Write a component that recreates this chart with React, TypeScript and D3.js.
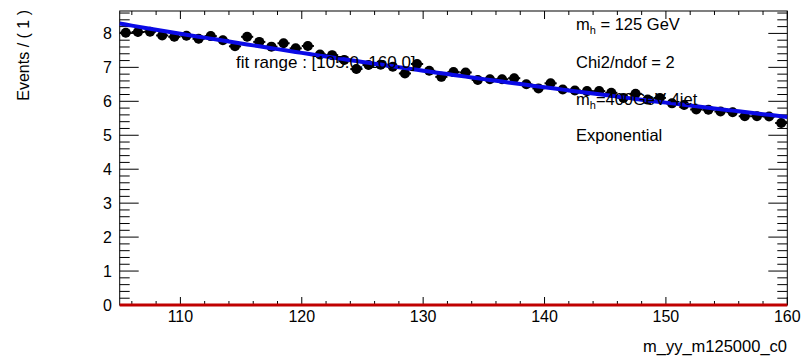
import React from 'react';
import * as d3 from 'd3';

const binCenters = [
  105.5, 106.5, 107.5, 108.5, 109.5, 110.5, 111.5, 112.5, 113.5, 114.5,
  115.5, 116.5, 117.5, 118.5, 119.5, 120.5, 121.5, 122.5, 123.5, 124.5,
  125.5, 126.5, 127.5, 128.5, 129.5, 130.5, 131.5, 132.5, 133.5, 134.5,
  135.5, 136.5, 137.5, 138.5, 139.5, 140.5, 141.5, 142.5, 143.5, 144.5,
  145.5, 146.5, 147.5, 148.5, 149.5, 150.5, 151.5, 152.5, 153.5, 154.5,
  155.5, 156.5, 157.5, 158.5, 159.5,
];
const eventValues = [
  8.02, 8.04, 8.05, 7.94, 7.90, 7.93, 7.84, 7.92, 7.80, 7.62,
  7.90, 7.75, 7.61, 7.71, 7.56, 7.63, 7.38, 7.36, 7.22, 6.95,
  7.07, 7.08, 7.02, 6.82, 7.10, 6.90, 6.72, 6.86, 6.85, 6.63,
  6.65, 6.65, 6.68, 6.50, 6.38, 6.53, 6.35, 6.32, 6.30, 6.30,
  6.25, 6.10, 6.22, 6.05, 6.10, 5.94, 5.89, 5.76, 5.75, 5.70,
  5.68, 5.56, 5.56, 5.55, 5.36,
];
const binWidth = 1;
const pointErr = 0.13;
const xTicks = [110, 120, 130, 140, 150, 160];
const yTicks = [0, 1, 2, 3, 4, 5, 6, 7, 8];
const xDomain = [105, 160];
const yDomain = [0, 8.66];
const fitNorm = 8.29;
const fitSlope = -0.00733;

const W = 804;
const H = 357;
const FONT = '"Liberation Sans", Arial, Helvetica, sans-serif';

export default function App() {
  const left = 119.7, right = 787.3, top = 11, bottom = 305;
  const x = d3.scaleLinear().domain(xDomain).range([left, right]);
  const y = d3.scaleLinear().domain(yDomain).range([bottom, top]);

  const xMinor = d3.range(106, 160.001, 2).filter((v) => !xTicks.includes(v));
  const yMinor = d3.range(0, 8.6001, 0.2).map((v) => +v.toFixed(2)).filter((v) => Math.abs(v - Math.round(v)) > 1e-6);

  const fitPts = d3.range(xDomain[0], xDomain[1] + 0.001, 0.5).map((v) => [v, fitNorm * Math.exp(fitSlope * (v - xDomain[0]))] as [number, number]);
  const fitLine = d3.line<[number, number]>().x((d) => x(d[0])).y((d) => y(d[1]))(fitPts) || '';

  const majLenY = 19, minLenY = 10, majLenX = 8, minLenX = 4;

  return (
    <svg width={W} height={H} style={{ position: 'absolute', left: 0, top: 0, background: '#fff' }} fontFamily={FONT}>
      <rect x={0} y={0} width={W} height={H} fill="#fff" />
      <rect x={left} y={top} width={right - left} height={bottom - top} fill="none" stroke="#000" strokeWidth={1} />
      {yTicks.map((t) => (
        <g key={'yt' + t}>
          <line x1={left} x2={left + majLenY} y1={y(t)} y2={y(t)} stroke="#000" />
          <line x1={right} x2={right - majLenY} y1={y(t)} y2={y(t)} stroke="#000" />
          <text x={112} y={y(t) + 6} fontSize={16} textAnchor="end" fill="#000">{t}</text>
        </g>
      ))}
      {yMinor.map((t) => (
        <g key={'ym' + t}>
          <line x1={left} x2={left + minLenY} y1={y(t)} y2={y(t)} stroke="#000" />
          <line x1={right} x2={right - minLenY} y1={y(t)} y2={y(t)} stroke="#000" />
        </g>
      ))}
      {xTicks.map((t) => (
        <g key={'xt' + t}>
          <line x1={x(t)} x2={x(t)} y1={bottom} y2={bottom - majLenX} stroke="#000" />
          <line x1={x(t)} x2={x(t)} y1={top} y2={top + majLenX} stroke="#000" />
          <text x={x(t)} y={322} fontSize={16} textAnchor="middle" fill="#000">{t}</text>
        </g>
      ))}
      {xMinor.map((t) => (
        <g key={'xm' + t}>
          <line x1={x(t)} x2={x(t)} y1={bottom} y2={bottom - minLenX} stroke="#000" />
          <line x1={x(t)} x2={x(t)} y1={top} y2={top + minLenX} stroke="#000" />
        </g>
      ))}
      {binCenters.map((c, i) => {
        const v = eventValues[i];
        return (
          <g key={'p' + i}>
            <line x1={x(c - binWidth / 2)} x2={x(c + binWidth / 2)} y1={y(v)} y2={y(v)} stroke="#000" strokeWidth={2} />
            <line x1={x(c)} x2={x(c)} y1={y(v - pointErr)} y2={y(v + pointErr)} stroke="#000" strokeWidth={2} />
            <circle cx={x(c)} cy={y(v)} r={5} fill="#000" />
          </g>
        );
      })}
      <path d={fitLine} fill="none" stroke="#0a0ae6" strokeWidth={4} />
      <line x1={x(xDomain[0])} x2={x(xDomain[1])} y1={y(0)} y2={y(0)} stroke="#c00000" strokeWidth={3} />
      <text x={236} y={68} fontSize={17} fill="#000">fit range : [105.0, 160.0]</text>
      <text x={576} y={30} fontSize={16.5} fill="#000">m<tspan dy={4} fontSize={11}>h</tspan><tspan dy={-4}> = 125 GeV</tspan></text>
      <text x={576} y={68} fontSize={16.5} fill="#000">Chi2/ndof = 2</text>
      <text x={576} y={105} fontSize={16.5} fill="#000">m<tspan dy={4} fontSize={11}>h</tspan><tspan dy={-4}>=400GeV 4jet</tspan></text>
      <text x={576} y={141} fontSize={16.5} fill="#000">Exponential</text>
      <text transform={`translate(29, ${top - 1}) rotate(-90)`} fontSize={16} textAnchor="end" fill="#000">Events / ( 1 )</text>
      <text x={787} y={352} fontSize={16.5} textAnchor="end" fill="#000">m_yy_m125000_c0</text>
    </svg>
  );
}
